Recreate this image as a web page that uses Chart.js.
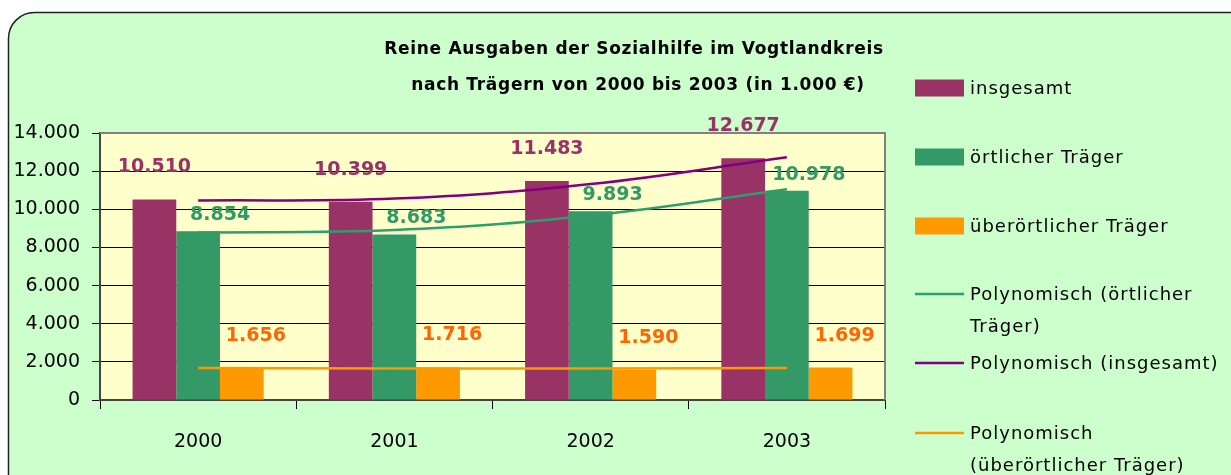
<!DOCTYPE html>
<html>
<head>
<meta charset="utf-8">
<script src="https://cdn.jsdelivr.net/npm/chart.js@4/dist/chart.umd.min.js"></script>
<style>
  html, body { margin: 0; padding: 0; background: #fff; }
</style>
</head>
<body>
<canvas id="chart" width="1231" height="475"></canvas>
<script>
// Daten (in 1.000 €)
const years = ["2000", "2001", "2002", "2003"];
const insgesamt = [10510, 10399, 11483, 12677];
const oertlich = [8854, 8683, 9893, 10978];
const ueberoertlich = [1656, 1716, 1590, 1699];
// polynomische Trendlinien
const trendInsgesamt = [10460, 10560, 11320, 12730];
const trendOertlich = [8780, 8910, 9670, 11050];
const trendUeberoertlich = [1680, 1650, 1650, 1680];
const yMin = 0, yMax = 14000, yStep = 2000;
const titleLines = [
  "Reine Ausgaben der Sozialhilfe im Vogtlandkreis",
  "nach Trägern von 2000 bis 2003 (in 1.000 €)"
];

const fmt = v => String(v).replace(/\B(?=(\d{3})+(?!\d))/g, ".");
const FONT = "'DejaVu Sans', Verdana, sans-serif";

// Hintergrund, Rahmen, Titel
const backdrop = {
  id: "backdrop",
  beforeDraw(chart) {
    const ctx = chart.ctx, a = chart.chartArea;
    ctx.save();
    ctx.beginPath();
    ctx.roundRect(8.5, 12.5, 1260, 500, 26);
    ctx.fillStyle = "#CCFFCC";
    ctx.fill();
    ctx.lineWidth = 1.5;
    ctx.strokeStyle = "#222";
    ctx.stroke();
    ctx.fillStyle = "#FFFFCC";
    ctx.fillRect(a.left, a.top, a.right - a.left, a.bottom - a.top);
    ctx.fillStyle = "#000";
    ctx.font = "bold 17px " + FONT;
    ctx.textAlign = "center";
    ctx.textBaseline = "alphabetic";
    ctx.letterSpacing = "0.7px";
    ctx.fillText(titleLines[0], 634, 54);
    ctx.fillText(titleLines[1], 638, 90);
    ctx.restore();
  },
  beforeDatasetsDraw(chart) {
    const ctx = chart.ctx, a = chart.chartArea;
    ctx.save();
    ctx.strokeStyle = "#808080";
    ctx.lineWidth = 2;
    ctx.beginPath();
    ctx.moveTo(a.left, a.top);
    ctx.lineTo(a.right, a.top);
    ctx.lineTo(a.right, a.bottom);
    ctx.stroke();
    ctx.restore();
  }
};

// Datenbeschriftungen
const labelStyle = [
  { dx: 0, dy: -32, color: "#993366" },
  { dx: 22, dy: -16, color: "#339966" },
  { dx: 14, dy: -32, color: "#FF6600" }
];
const valueLabels = {
  id: "valueLabels",
  afterDatasetsDraw(chart) {
    const ctx = chart.ctx;
    ctx.save();
    ctx.font = "bold 19px " + FONT;
    ctx.textAlign = "center";
    ctx.textBaseline = "middle";
    labelStyle.forEach((st, i) => {
      const meta = chart.getDatasetMeta(i);
      meta.data.forEach((bar, j) => {
        ctx.fillStyle = st.color;
        ctx.fillText(fmt(chart.data.datasets[i].data[j]), bar.x + st.dx, bar.y + st.dy);
      });
    });
    ctx.restore();
  }
};

// Legende rechts
const legendRows = [
  { ds: 0, lines: ["insgesamt"], y: 88 },
  { ds: 1, lines: ["örtlicher Träger"], y: 157 },
  { ds: 2, lines: ["überörtlicher Träger"], y: 226 },
  { ds: 4, lines: ["Polynomisch (örtlicher", "Träger)"], y: 294 },
  { ds: 3, lines: ["Polynomisch (insgesamt)"], y: 363 },
  { ds: 5, lines: ["Polynomisch", "(überörtlicher Träger)"], y: 433 }
];
const sideLegend = {
  id: "sideLegend",
  afterDraw(chart) {
    const ctx = chart.ctx;
    ctx.save();
    ctx.font = "18px " + FONT;
    ctx.textAlign = "left";
    ctx.textBaseline = "middle";
    ctx.letterSpacing = "1px";
    legendRows.forEach(row => {
      const ds = chart.data.datasets[row.ds];
      if (ds.type === "line") {
        ctx.strokeStyle = ds.borderColor;
        ctx.lineWidth = 2.5;
        ctx.beginPath();
        ctx.moveTo(915, row.y);
        ctx.lineTo(964, row.y);
        ctx.stroke();
      } else {
        ctx.fillStyle = ds.backgroundColor;
        ctx.fillRect(915, row.y - 8.5, 49, 17);
      }
      ctx.fillStyle = "#000";
      row.lines.forEach((t, k) => ctx.fillText(t, 970, row.y + 1 + k * 32));
    });
    ctx.restore();
  }
};

const barBase = { type: "bar", categoryPercentage: 0.668, barPercentage: 1.0, order: 2 };
const lineBase = { type: "line", borderWidth: 2.5, pointRadius: 0, tension: 0.4, fill: false, order: 1 };

new Chart(document.getElementById("chart").getContext("2d"), {
  data: {
    labels: years,
    datasets: [
      { ...barBase, label: "insgesamt", data: insgesamt, backgroundColor: "#993366" },
      { ...barBase, label: "örtlicher Träger", data: oertlich, backgroundColor: "#339966" },
      { ...barBase, label: "überörtlicher Träger", data: ueberoertlich, backgroundColor: "#FF9900" },
      { ...lineBase, label: "Polynomisch (insgesamt)", data: trendInsgesamt, borderColor: "#800080" },
      { ...lineBase, label: "Polynomisch (örtlicher Träger)", data: trendOertlich, borderColor: "#2E9E6B" },
      { ...lineBase, label: "Polynomisch (überörtlicher Träger)", data: trendUeberoertlich, borderColor: "#FF9900" }
    ]
  },
  options: {
    responsive: false,
    animation: false,
    layout: { padding: { left: 0, right: 346, top: 133, bottom: 0 } },
    plugins: {
      legend: { display: false },
      title: { display: false },
      tooltip: { enabled: false }
    },
    scales: {
      x: {
        grid: { display: true, drawOnChartArea: false, offset: true, color: "#000", tickLength: 9 },
        border: { color: "#444", width: 2 },
        ticks: { color: "#000", font: { family: FONT, size: 19 }, padding: 22 },
        afterFit(s) { s.height = 75; }
      },
      y: {
        min: yMin,
        max: yMax,
        grid: { color: "#000", tickLength: 8 },
        border: { color: "#444", width: 2 },
        ticks: { stepSize: yStep, color: "#000", font: { family: FONT, size: 19 }, padding: 12, callback: v => fmt(v) },
        afterFit(s) { s.width = 100; }
      }
    }
  },
  plugins: [backdrop, valueLabels, sideLegend]
});
</script>
</body>
</html>
